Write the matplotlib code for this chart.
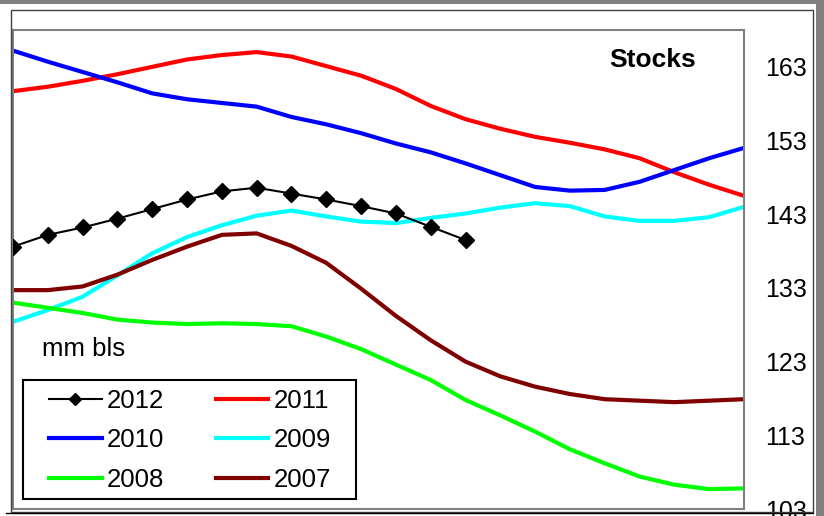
#!/usr/bin/env python
'''
    stocks
    ------

    Weekly crude stocks, current year against the previous five.
'''

import matplotlib
matplotlib.use('Agg')
import matplotlib.pyplot as plt
from matplotlib.patches import Rectangle
from matplotlib.lines import Line2D

plt.rcParams['font.family'] = ['Liberation Sans', 'DejaVu Sans']

# Weekly stock levels, mm bls
weeks = list(range(22))

stocks_2012 = [138.6, 140.2, 141.2, 142.4, 143.7, 145.0, 146.1, 146.6, 145.8,
               145.0, 144.1, 143.1, 141.3, 139.5]
stocks_2011 = [159.7, 160.3, 161.1, 162.0, 163.0, 164.0, 164.6, 165.0, 164.4,
               163.1, 161.8, 160.0, 157.7, 155.9, 154.6, 153.5, 152.7, 151.8,
               150.6, 148.7, 147.0, 145.5]
stocks_2010 = [165.2, 163.7, 162.3, 160.9, 159.4, 158.6, 158.1, 157.6, 156.2,
               155.2, 154.0, 152.6, 151.4, 149.9, 148.3, 146.7, 146.2, 146.3,
               147.4, 149.0, 150.6, 152.0]
stocks_2009 = [128.4, 130.0, 131.8, 134.7, 137.7, 139.9, 141.5, 142.8, 143.5,
               142.7, 142.0, 141.8, 142.5, 143.1, 143.9, 144.5, 144.1, 142.7,
               142.1, 142.1, 142.6, 144.0]
stocks_2008 = [131.0, 130.3, 129.6, 128.7, 128.3, 128.1, 128.2, 128.1, 127.8,
               126.4, 124.7, 122.6, 120.5, 117.8, 115.7, 113.5, 111.1, 109.2,
               107.4, 106.3, 105.7, 105.8]
stocks_2007 = [132.7, 132.7, 133.2, 134.8, 136.8, 138.6, 140.2, 140.4, 138.7,
               136.4, 132.9, 129.2, 125.9, 123.0, 121.0, 119.6, 118.6, 117.9,
               117.7, 117.5, 117.7, 117.9]

y_ticks = [103, 113, 123, 133, 143, 153, 163]

W, H = 824, 516
fig = plt.figure(figsize=(W / 100, H / 100), dpi=100, facecolor='white')

def px(x0, y0, x1, y1):
    '''Pixel box (top-left origin) to figure fraction rect.'''
    return [x0 / W, 1 - y1 / H, (x1 - x0) / W, (y1 - y0) / H]

def fig_box(x0, y0, x1, y1, **kw):
    '''Add a rectangle given in pixels from the top-left corner.'''
    x, y, w, h = px(x0, y0, x1, y1)
    fig.patches.append(Rectangle((x, y), w, h, transform=fig.transFigure, **kw))

# Window chrome round the chart
fig_box(0, 0, W, 4, facecolor='#808080', edgecolor='none')
fig_box(816, 0, W, H, facecolor='#808080', edgecolor='none')
fig_box(11, 10, 813, 512, facecolor='none', edgecolor='#404040', linewidth=1.0)
fig.lines.append(Line2D([6 / W, 813 / W], [1 - 512.5 / H, 1 - 512.5 / H],
                        transform=fig.transFigure, color='black', linewidth=1.0))

ax = fig.add_axes(px(13, 30, 744, 509))

l12, = ax.plot(weeks[:len(stocks_2012)], stocks_2012, color='black', lw=1.5,
               marker='D', markersize=8, label='2012', zorder=5)
l11, = ax.plot(weeks, stocks_2011, color='#ff0000', lw=3, label='2011')
l10, = ax.plot(weeks, stocks_2010, color='#0000ff', lw=3, label='2010')
l09, = ax.plot(weeks, stocks_2009, color='#00ffff', lw=3, label='2009')
l08, = ax.plot(weeks, stocks_2008, color='#00ff00', lw=3, label='2008')
l07, = ax.plot(weeks, stocks_2007, color='#800000', lw=3, label='2007')

ax.set_xlim(0, 21)
ax.set_ylim(103, 168)
ax.set_xticks([])
ax.set_yticks(y_ticks)
ax.yaxis.tick_right()
ax.tick_params(axis='y', length=0, pad=15, labelsize=18)
for s in ax.spines.values():
    s.set_color('#808080')
    s.set_linewidth(1.5)

fig.text(653 / W, 1 - 60 / H, 'Stocks', fontsize=19, fontweight='bold',
         ha='center', va='center')
fig.text(42 / W, 1 - 349 / H, 'mm bls', fontsize=18.5, ha='left', va='center')

# Legend reads across rows: 2012 2011 / 2010 2009 / 2008 2007
handles = [l12, l10, l08, l11, l09, l07]
leg = ax.legend(handles, [h.get_label() for h in handles], ncol=2,
                loc='upper left', bbox_to_anchor=(49 / W, 1 - 389 / H),
                bbox_transform=fig.transFigure, fontsize=18.5, frameon=False,
                borderaxespad=0, borderpad=0, handlelength=2.05,
                handletextpad=0.2, columnspacing=2.0, labelspacing=0.6,
                markerscale=0.8)
fig_box(23, 380, 356, 499, facecolor='none', edgecolor='black', linewidth=1.5)

fig.savefig('out.png', dpi=100, facecolor='white')
